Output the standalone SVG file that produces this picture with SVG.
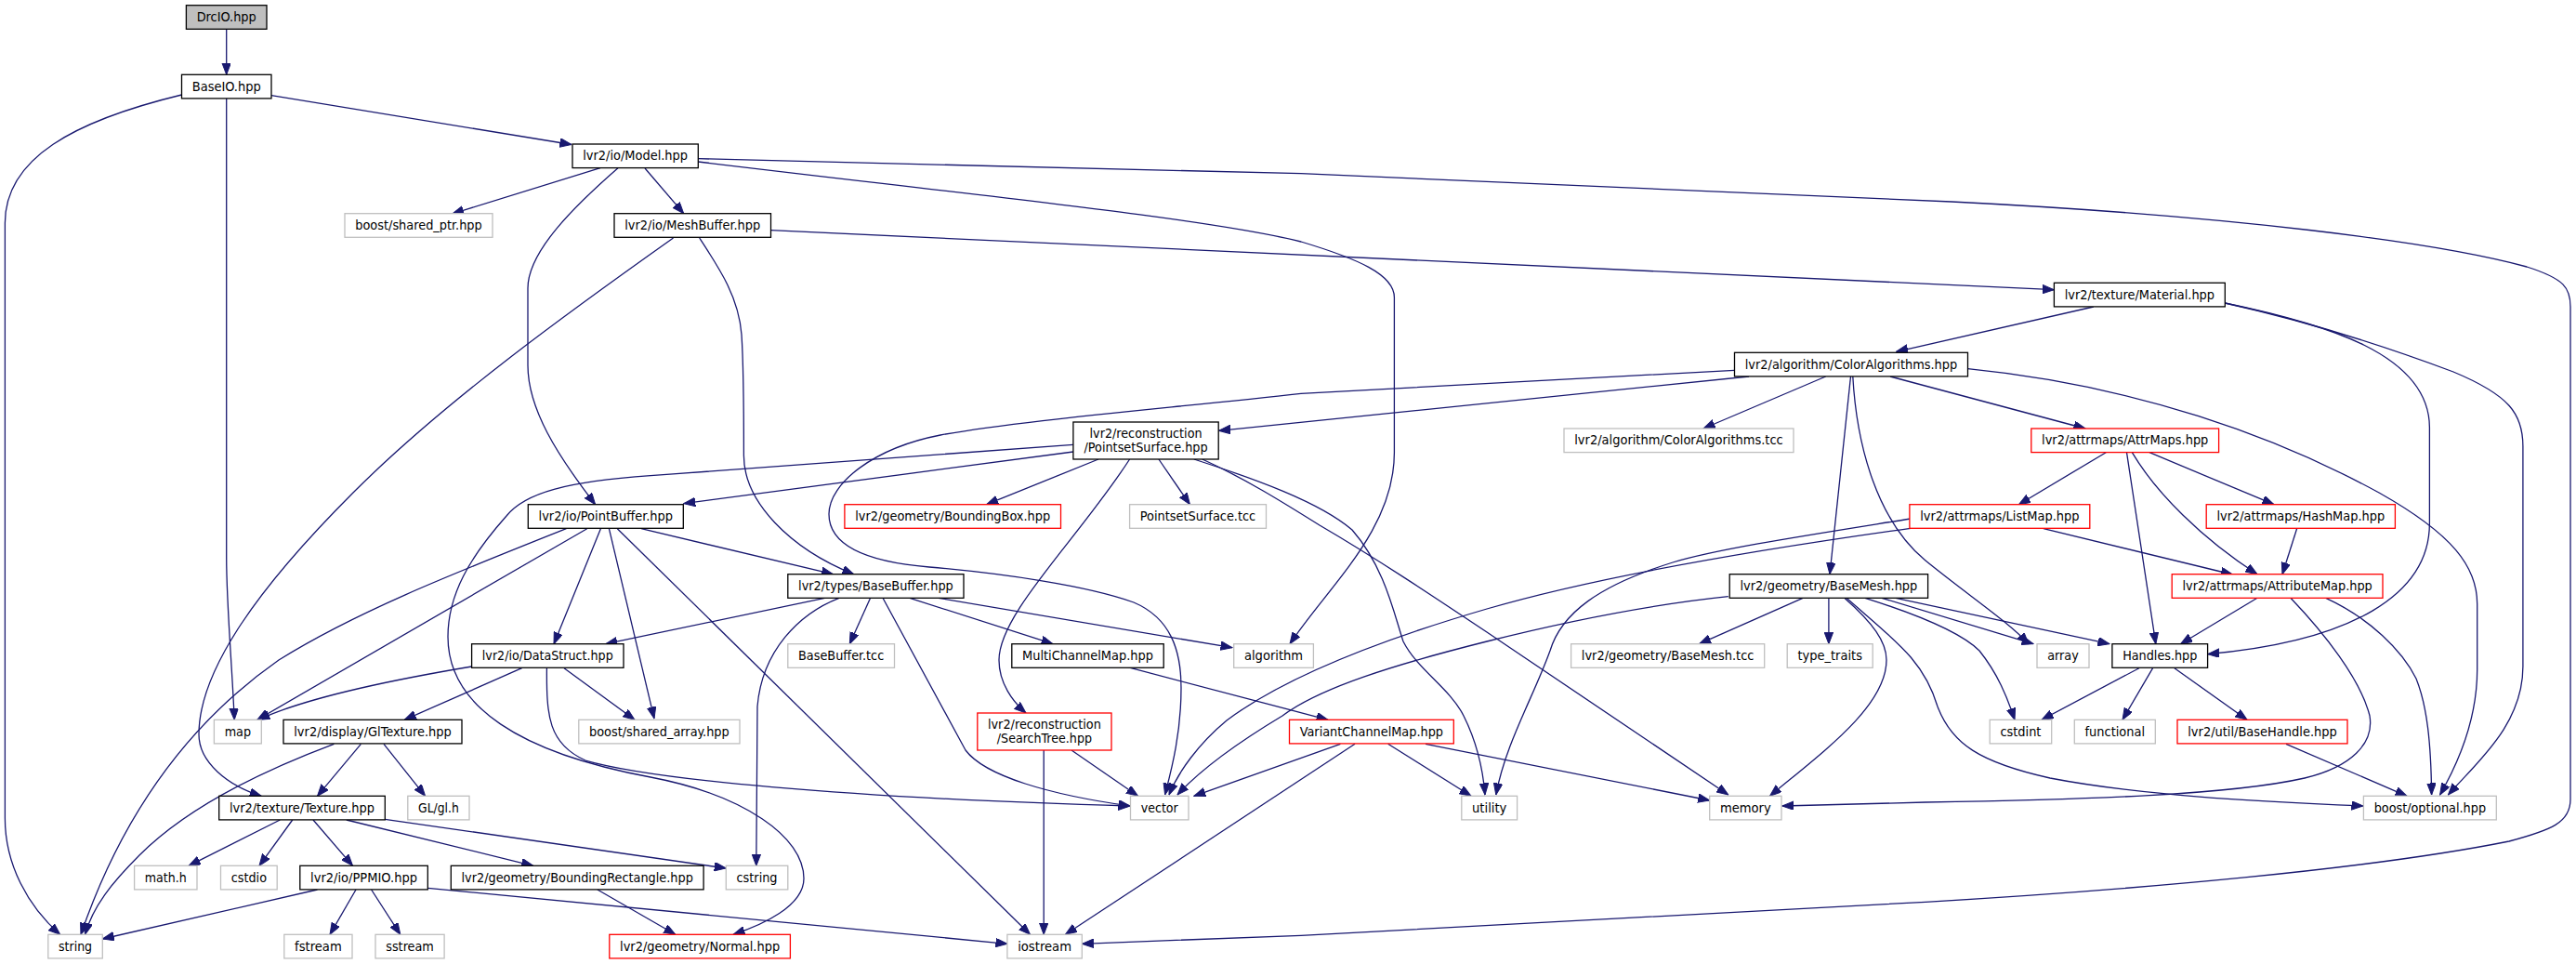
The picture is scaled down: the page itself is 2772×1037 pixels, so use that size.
<svg xmlns="http://www.w3.org/2000/svg" width="2772" height="1037" viewBox="0 0 2772 1037">
<defs>
<marker id="ah" markerUnits="userSpaceOnUse" markerWidth="13" markerHeight="10" refX="12.5" refY="4.75" orient="auto">
<path d="M0,0 L12.5,4.75 L0,9.5 Z" fill="#191970" stroke="#191970" stroke-width="1"/>
</marker>
</defs>
<style>
rect{fill:#fff;stroke-width:1.3}
.b rect{stroke:#000}
.g rect{stroke:#bfbfbf}
.r rect{stroke:#ff0000}
.root rect{fill:#bfbfbf;stroke:#000}
text{font-family:"DejaVu Sans Condensed","DejaVu Sans",sans-serif;font-stretch:condensed;font-size:14px;fill:#000;text-anchor:middle}
#edges path{fill:none;stroke:#191970;stroke-width:1.3;marker-end:url(#ah)}
</style>
<rect x="0" y="0" width="2772" height="1037" style="fill:#fff;stroke:none"/>
<g id="edges">
<path d="M243.7,31.3 L243.7,80.3"/>
<path d="M195.5,102 C80,130 5.4,170 5.4,240 L5.4,880 C5.4,930 30,975 64.7,1005.3"/>
<path d="M243.7,106 L243.7,600 C243.7,650 250,720 252.2,774.3"/>
<path d="M292,102.7 L615,155.5"/>
<path d="M646,180.7 L486.6,230"/>
<path d="M694,181 L735.7,229.7"/>
<path d="M665,180.7 C620,220 568,270 568,310 L568,393 C568,440 600,490 640.6,542.7"/>
<path d="M751.3,174 C1050,210 1300,235 1400,260 C1460,278 1500.4,295 1500.4,320 L1500.4,487 C1500.4,570 1430,630 1388,692.7"/>
<path d="M751.3,170.7 L1400,186.7 L2100,217 C2400,232 2620,260 2719,287 C2760,300 2766,310 2766,330 L2766,860 C2766,885 2745,893 2700,905 C2550,935 2300,957 2072,970.3 L1400,1006.3 L1164.3,1015.3"/>
<path d="M829.5,247.7 L2210.4,311.7"/>
<path d="M752.7,256 C775,290 795,320 798,360 C800,390 800.4,420 800.4,490 C800.4,540 850,590 918.7,617.7"/>
<path d="M724.5,256 C620,330 480,430 380,530 C280,630 214,720 214,790 C214,820 245,845 281.2,856.3"/>
<path d="M2252.8,330 L2040.6,378.3"/>
<path d="M2394.3,326 C2500,348 2614.4,380 2614.4,460 L2614.4,563 C2614.4,640 2530,690 2375.6,703.7"/>
<path d="M2394.3,326 C2480,345 2560,370 2640,400 C2700,425 2714.9,445 2714.9,480 L2714.9,717 C2714.9,780 2665,820 2634.5,855"/>
<path d="M1882,405 L1311.6,463.3"/>
<path d="M1964.7,405 L1833,461"/>
<path d="M2034,405 L2244,461"/>
<path d="M1991.5,405 L1969,617.7"/>
<path d="M1993.8,405 C1998,480 2020,560 2072,603 C2120,642 2160,668 2183,692.7"/>
<path d="M2117.5,396.7 C2300,415 2450,470 2560,530 C2640,575 2665.7,610 2665.7,650 L2665.7,720 C2665.7,780 2640,830 2625.6,855"/>
<path d="M1866.5,398.3 L1400,423.3 C1250,440 1100,452 1012,468 C940,482 892,520 892,553 C892,590 940,605 1000,610 C1080,617 1170,630 1220,648 C1260,665 1271,700 1271,740 C1271,790 1260,830 1253.6,855"/>
<path d="M1154.9,486 L735.7,541.7"/>
<path d="M1182,494 L1061.6,542.7"/>
<path d="M1246.9,494 L1280.4,542.7"/>
<path d="M1215.6,494 C1160,580 1075,660 1075,710 C1075,735 1090,755 1104,767"/>
<path d="M1154.9,478.3 L700,511.7 C610,518 565,530 545,555 C505,600 482,640 482,685 C482,760 560,810 700,836 C800,855 865,900 865,945 C865,975 820,995 789,1005.3"/>
<path d="M1284.8,494 C1350,515 1420,540 1455,570 C1490,610 1500,660 1510,690 C1525,720 1560,740 1575,770 C1590,800 1596,830 1598,855"/>
<path d="M1293.8,494 C1340,515 1380,540 1420,565 C1480,600 1540,640 1600,680 L1859.8,855"/>
<path d="M2266.2,486.7 L2172.4,542.7"/>
<path d="M2313,486.7 L2447,542.7"/>
<path d="M2294.3,486.7 C2320,530 2370,580 2429,617.7"/>
<path d="M2288.5,486.7 L2319.8,692.7"/>
<path d="M2199,568.7 L2402.4,618"/>
<path d="M2056,568.3 C1900,590 1720,620 1600,655 C1480,690 1380,730 1320,775 C1290,800 1268,830 1258,855"/>
<path d="M2056,558 C1950,575 1850,590 1800,605 C1720,630 1680,660 1668,700 C1650,750 1620,800 1609.8,855"/>
<path d="M2471.6,568.7 L2456,617.7"/>
<path d="M2429,643.3 L2346.5,692.7"/>
<path d="M2464.9,643.3 C2500,680 2540,730 2550,770 C2555,800 2530,825 2480,837 C2400,855 2250,860 2072,863 L1917.9,867"/>
<path d="M2502.8,643.3 C2550,665 2585,700 2600,730 C2612,760 2616,800 2616.6,855"/>
<path d="M690,568.7 L896.4,617.7"/>
<path d="M646.4,568.7 L596,692.7"/>
<path d="M655.4,568.7 L704,773"/>
<path d="M631.7,568.7 L276.8,774.3"/>
<path d="M609.4,568.7 C480,620 380,660 300,710 C200,780 130,880 87,1005.3"/>
<path d="M664.3,568.7 L1108.5,1005.3"/>
<path d="M887.5,643.3 L651.8,692.7"/>
<path d="M936.6,643.3 L914.3,692.7"/>
<path d="M979,643.3 L1133,692.7"/>
<path d="M1010,643.3 L1326,696.7"/>
<path d="M950,643.3 L1039,807 C1060,835 1130,855 1216,867"/>
<path d="M903,643.3 C860,660 820,700 815,760 L813.8,931.3"/>
<path d="M1940,643.3 L1828.6,692.7"/>
<path d="M1967.9,643.3 L1967.9,692.7"/>
<path d="M1984.8,643.3 C2015,670 2030,690 2030,710 C2030,760 1960,810 1904.5,856.3"/>
<path d="M1987,643.3 C2040,690 2070,710 2085,760 C2100,800 2130,820 2206,837 C2300,855 2420,862 2543,867"/>
<path d="M2007,643.3 C2060,660 2110,680 2130,700 C2150,725 2160,750 2168,774.3"/>
<path d="M2025,643.3 L2188,692.7"/>
<path d="M2040,643.3 L2270,692.7"/>
<path d="M1859.8,641.7 C1780,650 1700,665 1600,690 C1500,715 1420,740 1380,770 C1330,800 1290,830 1267,855"/>
<path d="M507.6,717 C430,730 330,750 278,774.3"/>
<path d="M561.6,718.7 L435.3,774.3"/>
<path d="M607,718.7 L683,774.3"/>
<path d="M588.4,718.7 C588,770 590,800 630,818 C700,838 900,858 1216,867"/>
<path d="M1213.4,717.7 L1429,774.3"/>
<path d="M2301.9,718.7 L2197,774.3"/>
<path d="M2316.6,718.7 L2284,774.3"/>
<path d="M2339.9,718.7 L2418,774.3"/>
<path d="M2460,800.3 L2590,856.3"/>
<path d="M388.4,800.3 L341.5,856.3"/>
<path d="M413,800.3 L457.6,856.3"/>
<path d="M359.4,800.3 C280,830 200,870 150,920 C120,950 100,975 91.5,1005.3"/>
<path d="M1442.4,800.3 L1284.8,856.3"/>
<path d="M1458,800.3 L1146.4,1005.3"/>
<path d="M1493.7,800.3 L1583,856.3"/>
<path d="M1534,800.3 L1839.7,861"/>
<path d="M1153,807 L1224.5,856.3"/>
<path d="M1123.2,807 L1123.2,1005.3"/>
<path d="M301.3,882 L203.1,931.3"/>
<path d="M314.7,882 L279,931.3"/>
<path d="M337,882 L379.5,931.3"/>
<path d="M372.8,882 L573.7,931.3"/>
<path d="M414.3,881.3 L781.3,934"/>
<path d="M341.5,957 L110.3,1010"/>
<path d="M383,957 L355,1005.3"/>
<path d="M399.6,957 L430.8,1005.3"/>
<path d="M460.3,955.3 L1083.9,1015.3"/>
<path d="M642.9,957 L726.8,1005.3"/>
</g>
<g id="n_drcio" class="root"><rect x="200.4" y="5.7" width="86.6" height="25.6"/><text x="243.7" y="23" textLength="64.1" lengthAdjust="spacingAndGlyphs">DrcIO.hpp</text></g>
<g id="n_baseio" class="b"><rect x="195.5" y="80.3" width="96.5" height="25.6"/><text x="243.75" y="97.6" textLength="74" lengthAdjust="spacingAndGlyphs">BaseIO.hpp</text></g>
<g id="n_model" class="b"><rect x="616" y="155" width="135.3" height="25.6"/><text x="683.65" y="172.3" textLength="112.8" lengthAdjust="spacingAndGlyphs">lvr2/io/Model.hpp</text></g>
<g id="n_sharedptr" class="g"><rect x="371" y="229.7" width="159" height="25.6"/><text x="450.5" y="247" textLength="136.5" lengthAdjust="spacingAndGlyphs">boost/shared_ptr.hpp</text></g>
<g id="n_meshbuffer" class="b"><rect x="661" y="229.7" width="168.5" height="25.6"/><text x="745.25" y="247" textLength="146" lengthAdjust="spacingAndGlyphs">lvr2/io/MeshBuffer.hpp</text></g>
<g id="n_material" class="b"><rect x="2210.4" y="304.3" width="183.9" height="25.6"/><text x="2302.35" y="321.6" textLength="161.4" lengthAdjust="spacingAndGlyphs">lvr2/texture/Material.hpp</text></g>
<g id="n_coloralg" class="b"><rect x="1866.5" y="379.3" width="251" height="25.6"/><text x="1992" y="396.6" textLength="228.5" lengthAdjust="spacingAndGlyphs">lvr2/algorithm/ColorAlgorithms.hpp</text></g>
<g id="n_pointsetsurface" class="b"><rect x="1154.9" y="454" width="156.3" height="40"/><text x="1233.05" y="470.5" textLength="121" lengthAdjust="spacingAndGlyphs">lvr2/reconstruction</text><text x="1233.05" y="486" textLength="133" lengthAdjust="spacingAndGlyphs">/PointsetSurface.hpp</text></g>
<g id="n_coloralgtcc" class="g"><rect x="1683" y="461" width="247" height="25.6"/><text x="1806.5" y="478.3" textLength="224.5" lengthAdjust="spacingAndGlyphs">lvr2/algorithm/ColorAlgorithms.tcc</text></g>
<g id="n_attrmaps" class="r"><rect x="2185.8" y="461" width="201.8" height="25.6"/><text x="2286.7" y="478.3" textLength="179.3" lengthAdjust="spacingAndGlyphs">lvr2/attrmaps/AttrMaps.hpp</text></g>
<g id="n_pointbuffer" class="b"><rect x="568.3" y="542.7" width="167" height="25.6"/><text x="651.8" y="560" textLength="144.5" lengthAdjust="spacingAndGlyphs">lvr2/io/PointBuffer.hpp</text></g>
<g id="n_boundingbox" class="r"><rect x="908.9" y="542.7" width="232.6" height="25.6"/><text x="1025.2" y="560" textLength="210" lengthAdjust="spacingAndGlyphs">lvr2/geometry/BoundingBox.hpp</text></g>
<g id="n_pstcc" class="g"><rect x="1215.6" y="542.7" width="146.9" height="25.6"/><text x="1289.05" y="560" textLength="124.4" lengthAdjust="spacingAndGlyphs">PointsetSurface.tcc</text></g>
<g id="n_listmap" class="r"><rect x="2054.9" y="542.7" width="193.9" height="25.6"/><text x="2151.85" y="560" textLength="171.4" lengthAdjust="spacingAndGlyphs">lvr2/attrmaps/ListMap.hpp</text></g>
<g id="n_hashmap" class="r"><rect x="2374.2" y="542.7" width="203.2" height="25.6"/><text x="2475.8" y="560" textLength="180.7" lengthAdjust="spacingAndGlyphs">lvr2/attrmaps/HashMap.hpp</text></g>
<g id="n_basebuffer" class="b"><rect x="847.8" y="617.7" width="189.2" height="25.6"/><text x="942.4" y="635" textLength="166.7" lengthAdjust="spacingAndGlyphs">lvr2/types/BaseBuffer.hpp</text></g>
<g id="n_basemesh" class="b"><rect x="1861.2" y="617.7" width="213.4" height="25.6"/><text x="1967.9" y="635" textLength="190.9" lengthAdjust="spacingAndGlyphs">lvr2/geometry/BaseMesh.hpp</text></g>
<g id="n_attributemap" class="r"><rect x="2337.2" y="617.7" width="226.8" height="25.6"/><text x="2450.6" y="635" textLength="204.3" lengthAdjust="spacingAndGlyphs">lvr2/attrmaps/AttributeMap.hpp</text></g>
<g id="n_datastruct" class="b"><rect x="507.6" y="692.7" width="163.4" height="25.6"/><text x="589.3" y="710" textLength="140.9" lengthAdjust="spacingAndGlyphs">lvr2/io/DataStruct.hpp</text></g>
<g id="n_basebuffertcc" class="g"><rect x="847.8" y="692.7" width="114.7" height="25.6"/><text x="905.15" y="710" textLength="92.2" lengthAdjust="spacingAndGlyphs">BaseBuffer.tcc</text></g>
<g id="n_multichannelmap" class="b"><rect x="1088.8" y="692.7" width="163.4" height="25.6"/><text x="1170.5" y="710" textLength="140.9" lengthAdjust="spacingAndGlyphs">MultiChannelMap.hpp</text></g>
<g id="n_algorithm" class="g"><rect x="1327.7" y="692.7" width="85.7" height="25.6"/><text x="1370.55" y="710" textLength="63.2" lengthAdjust="spacingAndGlyphs">algorithm</text></g>
<g id="n_basemeshtcc" class="g"><rect x="1690.6" y="692.7" width="208.1" height="25.6"/><text x="1794.65" y="710" textLength="185.6" lengthAdjust="spacingAndGlyphs">lvr2/geometry/BaseMesh.tcc</text></g>
<g id="n_typetraits" class="g"><rect x="1923.2" y="692.7" width="92" height="25.6"/><text x="1969.2" y="710" textLength="69.5" lengthAdjust="spacingAndGlyphs">type_traits</text></g>
<g id="n_array" class="g"><rect x="2192" y="692.7" width="56" height="25.6"/><text x="2220" y="710" textLength="33.5" lengthAdjust="spacingAndGlyphs">array</text></g>
<g id="n_handles" class="b"><rect x="2272.9" y="692.7" width="102.7" height="25.6"/><text x="2324.25" y="710" textLength="80.2" lengthAdjust="spacingAndGlyphs">Handles.hpp</text></g>
<g id="n_map" class="g"><rect x="230.4" y="774.3" width="50.9" height="25.6"/><text x="255.85" y="791.6" textLength="28.4" lengthAdjust="spacingAndGlyphs">map</text></g>
<g id="n_gltexture" class="b"><rect x="305" y="774.3" width="192" height="25.6"/><text x="401" y="791.6" textLength="169.5" lengthAdjust="spacingAndGlyphs">lvr2/display/GlTexture.hpp</text></g>
<g id="n_sharedarray" class="g"><rect x="622.8" y="774.3" width="173.2" height="25.6"/><text x="709.4" y="791.6" textLength="150.7" lengthAdjust="spacingAndGlyphs">boost/shared_array.hpp</text></g>
<g id="n_searchtree" class="r"><rect x="1051.8" y="767" width="144.2" height="40"/><text x="1123.9" y="783.5" textLength="121.9" lengthAdjust="spacingAndGlyphs">lvr2/reconstruction</text><text x="1123.9" y="799" textLength="102.2" lengthAdjust="spacingAndGlyphs">/SearchTree.hpp</text></g>
<g id="n_variantchannelmap" class="r"><rect x="1387.5" y="774.3" width="176.8" height="25.6"/><text x="1475.9" y="791.6" textLength="154.3" lengthAdjust="spacingAndGlyphs">VariantChannelMap.hpp</text></g>
<g id="n_cstdint" class="g"><rect x="2141.2" y="774.3" width="66.5" height="25.6"/><text x="2174.45" y="791.6" textLength="44" lengthAdjust="spacingAndGlyphs">cstdint</text></g>
<g id="n_functional" class="g"><rect x="2232.3" y="774.3" width="87" height="25.6"/><text x="2275.8" y="791.6" textLength="64.5" lengthAdjust="spacingAndGlyphs">functional</text></g>
<g id="n_basehandle" class="r"><rect x="2343" y="774.3" width="183" height="25.6"/><text x="2434.5" y="791.6" textLength="160.5" lengthAdjust="spacingAndGlyphs">lvr2/util/BaseHandle.hpp</text></g>
<g id="n_texture" class="b"><rect x="235.7" y="856.3" width="178.6" height="25.6"/><text x="325" y="873.6" textLength="156.1" lengthAdjust="spacingAndGlyphs">lvr2/texture/Texture.hpp</text></g>
<g id="n_glh" class="g"><rect x="438.8" y="856.3" width="66.2" height="25.6"/><text x="471.9" y="873.6" textLength="43.7" lengthAdjust="spacingAndGlyphs">GL/gl.h</text></g>
<g id="n_vector" class="g"><rect x="1216.5" y="856.3" width="62.5" height="25.6"/><text x="1247.75" y="873.6" textLength="40" lengthAdjust="spacingAndGlyphs">vector</text></g>
<g id="n_utility" class="g"><rect x="1572.8" y="856.3" width="59.8" height="25.6"/><text x="1602.7" y="873.6" textLength="37.3" lengthAdjust="spacingAndGlyphs">utility</text></g>
<g id="n_memory" class="g"><rect x="1839.7" y="856.3" width="77.3" height="25.6"/><text x="1878.35" y="873.6" textLength="54.8" lengthAdjust="spacingAndGlyphs">memory</text></g>
<g id="n_boostoptional" class="g"><rect x="2543.4" y="856.3" width="142.9" height="25.6"/><text x="2614.85" y="873.6" textLength="120.4" lengthAdjust="spacingAndGlyphs">boost/optional.hpp</text></g>
<g id="n_mathh" class="g"><rect x="144.6" y="931.3" width="67.4" height="25.6"/><text x="178.3" y="948.6" textLength="44.9" lengthAdjust="spacingAndGlyphs">math.h</text></g>
<g id="n_cstdio" class="g"><rect x="237.5" y="931.3" width="60.7" height="25.6"/><text x="267.85" y="948.6" textLength="38.2" lengthAdjust="spacingAndGlyphs">cstdio</text></g>
<g id="n_ppmio" class="b"><rect x="322.8" y="931.3" width="137.5" height="25.6"/><text x="391.55" y="948.6" textLength="115" lengthAdjust="spacingAndGlyphs">lvr2/io/PPMIO.hpp</text></g>
<g id="n_boundingrect" class="b"><rect x="485.3" y="931.3" width="271.8" height="25.6"/><text x="621.2" y="948.6" textLength="249.3" lengthAdjust="spacingAndGlyphs">lvr2/geometry/BoundingRectangle.hpp</text></g>
<g id="n_cstring" class="g"><rect x="781.3" y="931.3" width="66.5" height="25.6"/><text x="814.55" y="948.6" textLength="44" lengthAdjust="spacingAndGlyphs">cstring</text></g>
<g id="n_string" class="g"><rect x="51.8" y="1005.3" width="58.5" height="25.6"/><text x="81.05" y="1022.6" textLength="36" lengthAdjust="spacingAndGlyphs">string</text></g>
<g id="n_fstream" class="g"><rect x="305.8" y="1005.3" width="73.2" height="25.6"/><text x="342.4" y="1022.6" textLength="50.7" lengthAdjust="spacingAndGlyphs">fstream</text></g>
<g id="n_sstream" class="g"><rect x="404" y="1005.3" width="74.1" height="25.6"/><text x="441.05" y="1022.6" textLength="51.6" lengthAdjust="spacingAndGlyphs">sstream</text></g>
<g id="n_normal" class="r"><rect x="655.8" y="1005.3" width="194.6" height="25.6"/><text x="753.1" y="1022.6" textLength="172.1" lengthAdjust="spacingAndGlyphs">lvr2/geometry/Normal.hpp</text></g>
<g id="n_iostream" class="g"><rect x="1083.9" y="1005.3" width="80.4" height="25.6"/><text x="1124.1" y="1022.6" textLength="57.9" lengthAdjust="spacingAndGlyphs">iostream</text></g>
</svg>
